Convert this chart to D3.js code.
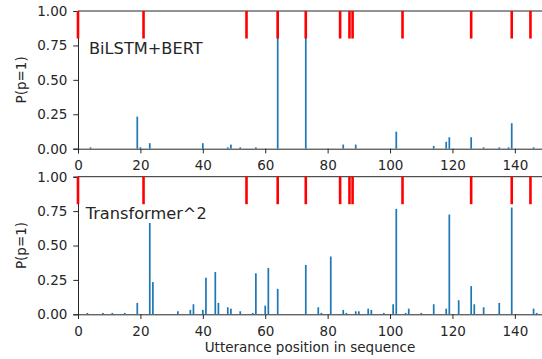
<!DOCTYPE html>
<html>
<head>
<meta charset="utf-8">
<script src="https://cdn.jsdelivr.net/npm/d3@7"></script>
<style>
  body { margin: 0; background: white; }
  text { font-family: "DejaVu Sans", sans-serif; }
</style>
</head>
<body>
<div id="chart"></div>
<script>
// gold dialogue-act boundaries (red marks)
const boundaries = [0, 21, 54, 64, 73, 84, 87, 88, 104, 126, 139, 145];

// BiLSTM+BERT predicted P(p=1)
const bilstmPos = [4, 19, 20, 23, 40, 48, 49, 52, 57, 64, 73, 85, 89, 102, 114, 118, 119, 126, 130, 135, 138, 139, 146];
const bilstmVal = [0.01, 0.233, 0.01, 0.04, 0.04, 0.01, 0.03, 0.01, 0.01, 1.0, 1.0, 0.03, 0.03, 0.124, 0.02, 0.05, 0.083, 0.083, 0.01, 0.01, 0.01, 0.185, 0.01];

// Transformer^2 predicted P(p=1)
const transPos = [3, 8, 11, 15, 19, 23, 24, 32, 36, 37, 40, 41, 44, 45, 48, 49, 52, 56, 57, 60, 61, 64, 73,
  77, 78, 81, 85, 86, 89, 90, 93, 94, 98, 101, 102, 105, 106, 110, 114, 118, 119, 122, 126, 127, 130, 135, 139, 146, 147];
const transVal = [0.01, 0.01, 0.01, 0.01, 0.083, 0.664, 0.234, 0.022, 0.032, 0.073, 0.032, 0.266, 0.307, 0.083, 0.051, 0.041, 0.022, 0.01, 0.298, 0.063, 0.337, 0.185, 0.359,
  0.051, 0.01, 0.42, 0.032, 0.01, 0.022, 0.022, 0.041, 0.032, 0.01, 0.073, 0.766, 0.01, 0.041, 0.01, 0.073, 0.041, 0.725, 0.102, 0.205, 0.073, 0.051, 0.083, 0.776, 0.041, 0.01];

const yTicks = [0, 0.25, 0.5, 0.75, 1.0];
const xTicks = [0, 20, 40, 60, 80, 100, 120, 140];

const W = 542, H = 359;
const left = 78, right = 542;
const textColor = '#262626';
const tickFont = '13.5px';

const svg = d3.select('#chart').append('svg')
  .attr('width', W)
  .attr('height', H);

const x = d3.scaleLinear()
  .domain([0, 148.7])
  .range([left, right]);

const barW = 0.55;

const defs = svg.append('defs');
defs.append('clipPath').attr('id', 'clip')
  .append('rect')
  .attr('x', left - 3).attr('y', 0)
  .attr('width', right - left + 3).attr('height', H);

function panel(pos, vals, top, bottom, title, titleX, titleY) {
  const y = d3.scaleLinear()
    .domain([0, 1])
    .range([bottom, top]);

  const g = svg.append('g');

  // spines + axes first, marks drawn over them
  g.append('line')
    .attr('x1', left).attr('x2', right)
    .attr('y1', y(1)).attr('y2', y(1))
    .style('stroke', textColor).style('stroke-width', 1);

  const yAxis = g.append('g')
    .attr('transform', `translate(${left},0)`)
    .call(d3.axisLeft(y).tickValues(yTicks).tickFormat(d3.format('.2f')).tickSize(4.7).tickPadding(6));

  const xAxis = g.append('g')
    .attr('transform', `translate(0,${bottom})`)
    .call(d3.axisBottom(x).tickValues(xTicks).tickSize(4.7).tickPadding(7.3));

  [yAxis, xAxis].forEach(a => {
    a.select('.domain').style('stroke', textColor);
    a.selectAll('.tick line').style('stroke', textColor);
    a.selectAll('.tick text')
      .style('font-size', tickFont)
      .style('fill', textColor);
  });

  const plot = g.append('g').attr('clip-path', 'url(#clip)');

  // probability bars
  plot.selectAll('rect.bar')
    .data(pos.map((p, i) => ({ p: p, v: vals[i] })))
    .enter()
    .append('rect')
    .attr('class', 'bar')
    .attr('x', d => x(d.p - barW / 2))
    .attr('width', x(barW) - x(0))
    .attr('y', d => y(d.v))
    .attr('height', d => y(0) - y(d.v))
    .style('fill', '#1f77b4');

  // boundary marks on top 20%
  plot.selectAll('line.bound')
    .data(boundaries)
    .enter()
    .append('line')
    .attr('class', 'bound')
    .attr('x1', d => x(d)).attr('x2', d => x(d))
    .attr('y1', y(1)).attr('y2', y(0.8))
    .style('stroke', '#ff0000')
    .style('stroke-width', 2.6);

  g.append('text')
    .attr('transform', `translate(26,${(top + bottom) / 2}) rotate(-90)`)
    .attr('text-anchor', 'middle')
    .style('font-size', tickFont)
    .style('fill', textColor)
    .text('P(p=1)');

  g.append('text')
    .attr('x', titleX)
    .attr('y', titleY)
    .style('font-size', '16.2px')
    .style('fill', textColor)
    .text(title);
}

panel(bilstmPos, bilstmVal, 11, 148.7, 'BiLSTM+BERT', 89, 54.3);
panel(transPos, transVal, 176.7, 314.3, 'Transformer^2', 85.7, 219);

svg.append('text')
  .attr('x', (left + right) / 2)
  .attr('y', 351.6)
  .attr('text-anchor', 'middle')
  .style('font-size', tickFont)
  .style('fill', textColor)
  .text('Utterance position in sequence');
</script>
</body>
</html>
